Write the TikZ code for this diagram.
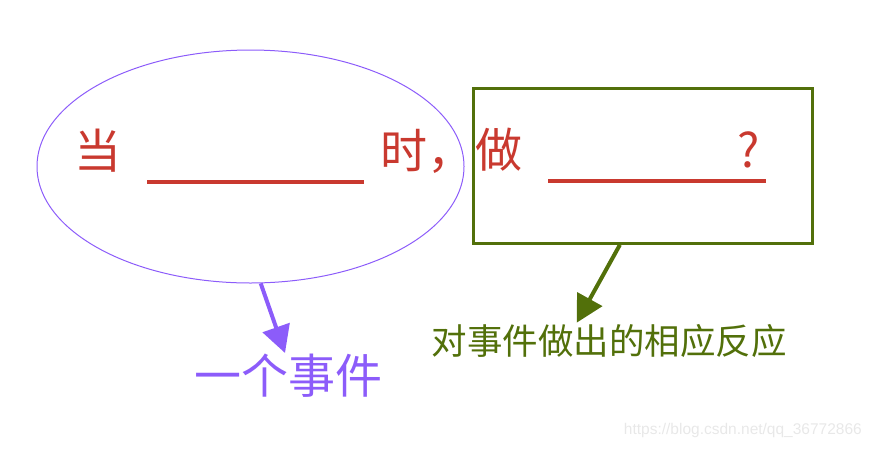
\documentclass[tikz,border=0pt]{standalone}
\usepackage{fontspec}
\setmainfont{Liberation Sans}
\newfontfamily\cjk{Noto Sans CJK SC}
\usetikzlibrary{shapes.geometric,arrows.meta,calc}
\definecolor{cred}{RGB}{201,57,47}
\definecolor{cpurple}{RGB}{140,92,250}
\definecolor{cgreen}{RGB}{82,112,10}
\definecolor{cwm}{RGB}{232,232,232}
\tikzset{
  big/.style={inner sep=0pt, anchor=base, font=\cjk\fontsize{47pt}{47pt}\selectfont},
  mid/.style={inner sep=0pt, anchor=base, font=\cjk\fontsize{35.5pt}{35.5pt}\selectfont},
  blank/.style={draw=cred, line width=4pt},
  pointer/.style={line width=4pt, -{Triangle[length=27pt,width=28pt]}},
}
\begin{document}
\begin{tikzpicture}[x=1pt,y=-1pt]
\useasboundingbox (0,0) rectangle (872,448);
% ellipse: event
\node[ellipse, draw=cpurple, line width=1pt, minimum width=427pt, minimum height=233pt, inner sep=0pt] (ev) at (250.5,166.5) {};
% rectangle: reaction
\node[rectangle, draw=cgreen, line width=3pt, minimum width=339pt, minimum height=155pt, inner sep=0pt] (act) at (642.8,165.8) {};
% sentence pieces
\node[big, text=cred] (dang) at (97.5,168) {当};
\node[big, text=cred, anchor=base west] (shi) at (380,168) {时，};
\node[big, text=cred] (zuo) at (498.5,167.5) {做};
\node[big, text=cred] (q) at (748.5,167) {?};
% blanks
\coordinate (b1s) at (147,182);
\coordinate (b1e) at (364,182);
\coordinate (b2s) at (548,181);
\coordinate (b2e) at (766,181);
\draw[blank] (b1s) -- (b1e);
\draw[blank] (b2s) -- (b2e);
% labels
\node[big, text=cpurple] (evlab) at (288,393.5) {一个事件};
\node[mid, text=cgreen] (actlab) at (609,354.5) {对事件做出的相应反应};
% arrows
\coordinate (evtip) at (285,353);
\coordinate (acttip) at (576.7,322.7);
\draw[pointer, draw=cpurple, fill=cpurple] (ev.275) -- (evtip);
\draw[pointer, draw=cgreen, fill=cgreen] ($(act.south west)!0.433!(act.south east)$) -- (acttip);
% watermark
\node[inner sep=0pt, anchor=east, text=cwm, font=\fontsize{15.5pt}{15.5pt}\selectfont] (wm) at (862,430) {https://blog.csdn.net/qq\_36772866};
\end{tikzpicture}
\end{document}
